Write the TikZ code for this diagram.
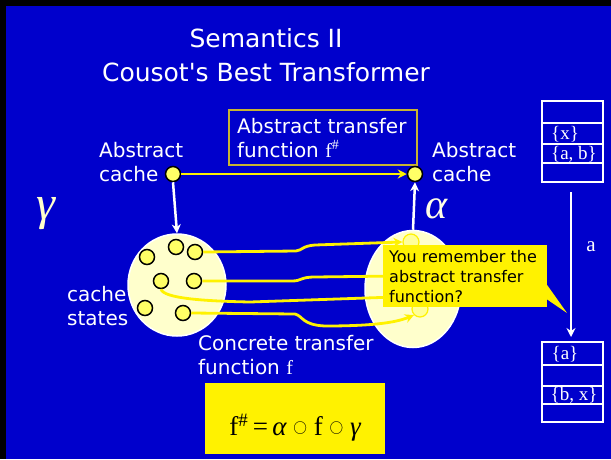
\documentclass[tikz,border=0pt]{standalone}
\usepackage{fontspec}
\setmainfont{Liberation Serif}
\newfontfamily\comic{DejaVu Sans}
\usetikzlibrary{arrows.meta,shapes.geometric}
\definecolor{bg}{HTML}{0000CC}
\definecolor{cream}{HTML}{FFFFCC}
\definecolor{dotfill}{HTML}{FFFF66}
\definecolor{boxline}{HTML}{C8B432}
\definecolor{pale}{HTML}{FFFF99}
\newcommand{\ocirc}{\raisebox{0.35ex}{\scalebox{0.55}{$\bigcirc$}}}
\tikzset{
  lbl/.style={text=white, font=\comic\fontsize{20}{23.5}\selectfont, inner sep=0pt, align=left},
  dot/.style={circle, draw=black, fill=dotfill, line width=1.5pt, minimum size=15pt, inner sep=0pt},
  fdot/.style={circle, draw=yellow, fill=pale, line width=1.2pt, minimum size=16pt, inner sep=0pt},
  blob/.style={ellipse, fill=cream, draw=white, line width=1.5pt, inner sep=0pt},
  ylink/.style={draw=yellow, line width=2.8pt},
  ytip/.style={-{Stealth[length=9pt,width=9pt]}},
  wlink/.style={draw=white, line width=2.5pt, -{Stealth[length=9pt,width=9pt]}},
  cell/.style={draw=white, line width=2pt},
  celltxt/.style={text=white, font=\fontsize{19}{20}\selectfont, inner sep=0pt},
  greek/.style={inner sep=0pt, text=cream}
}
\begin{document}
\begin{tikzpicture}[x=1pt,y=-1pt]
\useasboundingbox (0,0) rectangle (611,459);
\fill[black] (0,0) rectangle (611,459);
\fill[bg] (6,6) rectangle (611,459);

% title
\node[text=white, font=\comic\fontsize{25}{34}\selectfont, align=center, inner sep=0pt] (title) at (266,55)
  {Semantics II\\Cousot's Best Transformer};

% abstract transfer box
\node[draw=boxline, line width=1.2pt, minimum width=188pt, minimum height=55pt, inner sep=0pt] (afbox) at (323,137.5) {};
\node[lbl, anchor=west] (aftext) at (237,138) {Abstract transfer\\function {\rmfamily f\textsuperscript{\#}}};

% abstract caches
\node[lbl, anchor=west] (lacl) at (99,162) {Abstract\\cache};
\node[lbl, anchor=west] (racl) at (432,162) {Abstract\\cache};
\node[dot] (la) at (173,174) {};
\node[dot] (ra) at (415,174) {};
\draw[ylink, ytip] (la) -- (ra);

% greek labels
\node[greek, font=\fontsize{48}{48}\selectfont\itshape] (gam) at (46,214) {γ};
\node[greek, font=\fontsize{42}{42}\selectfont\itshape, text=white!90!yellow] (alp) at (437,209) {α};

% concrete state sets
\node[blob, minimum width=98pt, minimum height=102pt] (lset) at (177,285) {};
\node[blob, minimum width=96pt, minimum height=117pt] (rset) at (413,289) {};

\draw[wlink] (la.south) -- (lset.north);
\draw[wlink] (rset.north) -- (ra.south);

\node[dot] (d1) at (147,257) {};
\node[dot] (d2) at (176,247) {};
\node[dot] (d3) at (195,252) {};
\node[dot] (d4) at (161,281) {};
\node[dot] (d5) at (194,281) {};
\node[dot] (d6) at (145,308) {};
\node[dot] (d7) at (183,313) {};
\node[fdot] (rt) at (411,242) {};
\node[fdot] (rb) at (420,309) {};
\coordinate (rm1) at (395,276);
\coordinate (rm2) at (395,297);

% concrete transfer links
\draw[ylink, ytip] (d3.east) -- (296,251) .. controls (303,250) and (302,246) .. (315,245) -- (rt.west);
\draw[ylink, ytip] (d5.east) -- (292,281) .. controls (302,281) and (300,277) .. (315,277) -- (rm1);
\draw[ylink] (d4.south) .. controls (164,298) and (200,301) .. (250,302) -- (rm2);
\draw[ylink, ytip] (d7.east) -- (295,314) .. controls (303,316) and (302,325) .. (325,326) .. controls (370,326) and (395,323) .. (rb.south west);

% callout
\fill[yellow] (545,282) -- (567,313) -- (545,298) -- cycle;
\node[fill=yellow, minimum width=164pt, minimum height=62pt, inner sep=0pt] (callout) at (465,276) {};
\node[anchor=west, font=\comic\fontsize{16}{20}\selectfont, align=left, inner sep=0pt] (calltxt) at (389,277)
  {You remember the\\abstract transfer\\function?};

% side labels
\node[lbl, anchor=west] (cs) at (67,306) {cache\\states};
\node[lbl, anchor=west] (ctf) at (198,355) {Concrete transfer\\function {\rmfamily f}};

% formula box
\node[fill=yellow, minimum width=180pt, minimum height=71pt, inner sep=0pt] (fbox) at (295,418) {};
\node[font=\fontsize{27}{27}\selectfont, inner sep=0pt] (formula) at (295,428)
  {f\textsuperscript{\#}\,=\,{\itshape α}\ \ocirc\ f\ \ocirc\ {\itshape γ}};

% cache stacks
\foreach \y/\h in {101/123,123/144,144/163,163/182}{
  \draw[cell] (542,\y) rectangle (603,\h);
}
\node[celltxt] (x1) at (565,134) {\{x\}};
\node[celltxt] (ab) at (574,154) {\{a, b\}};
\foreach \y/\h in {342/365,365/386,386/404,404/422}{
  \draw[cell] (542,\y) rectangle (603,\h);
}
\node[celltxt] (a1) at (565,354) {\{a\}};
\node[celltxt] (bx) at (574,395) {\{b, x\}};
\coordinate (stop) at (571,192);
\coordinate (sbot) at (571,337);
\draw[wlink] (stop) -- (sbot);
\node[celltxt, font=\fontsize{21}{21}\selectfont] (alab) at (591,247) {a};
\end{tikzpicture}
\end{document}
